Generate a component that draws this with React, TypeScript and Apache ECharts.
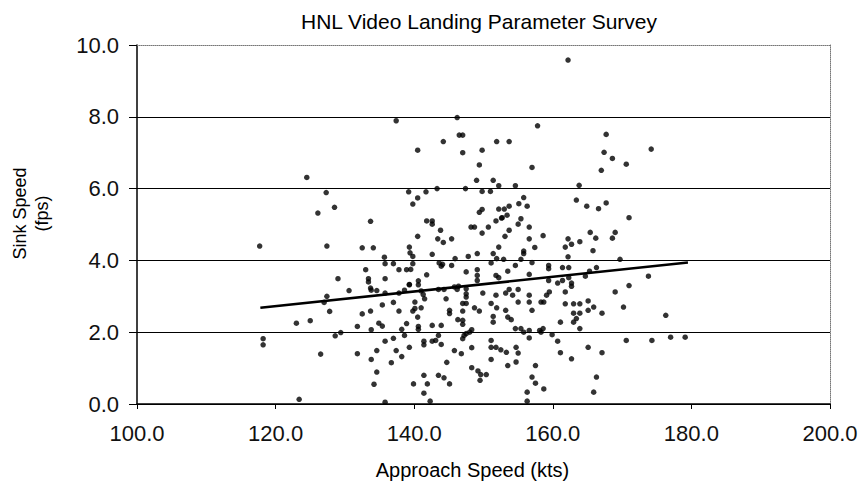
import React, { useEffect, useRef } from "react";
import * as echarts from "echarts";

const chartTitle = "HNL Video Landing Parameter Survey";
const xAxisName = "Approach Speed (kts)";
const yAxisName = "Sink Speed\n(fps)";

const xMin = 100;
const xMax = 200;
const xStep = 20;
const yMin = 0;
const yMax = 10;
const yStep = 2;

// [approach speed (kts), sink speed (fps)]
const landingsBelow140: [number, number][] = [
  [137.4, 7.89], [124.5, 6.31], [127.3, 5.89], [139.2, 5.91], [128.5, 5.48], [126.1, 5.32],
  [133.7, 5.09], [117.7, 4.4], [127.4, 4.4], [132.5, 4.35], [134.1, 4.35], [135.7, 4.09],
  [135.8, 3.91], [137.0, 3.91], [133.0, 3.74], [137.8, 3.74], [138.9, 3.74], [129.0, 3.49],
  [133.4, 3.49], [133.4, 3.4], [135.8, 3.49], [139.3, 3.33], [130.6, 3.16], [133.7, 3.23],
  [133.8, 3.17], [134.6, 3.16], [135.8, 3.09], [138.6, 3.17], [127.4, 3.0], [127.0, 2.83],
  [127.8, 2.58], [135.4, 2.76], [137.0, 2.83], [133.7, 2.59], [132.5, 2.51], [137.8, 2.59],
  [123.0, 2.25], [125.0, 2.32], [134.9, 2.25], [135.4, 2.17], [131.8, 2.16], [133.8, 2.07],
  [138.9, 2.24], [138.2, 2.08], [118.2, 1.82], [118.2, 1.65], [129.4, 1.99], [128.6, 1.9],
  [135.8, 1.75], [137.0, 1.83], [138.6, 1.91], [139.3, 1.58], [126.5, 1.39], [131.8, 1.4],
  [134.6, 1.49], [137.4, 1.49], [133.8, 1.24], [138.2, 1.32], [136.7, 1.15], [134.6, 0.89],
  [134.2, 0.55], [123.4, 0.13], [135.8, 0.05],
];

const landingsUpperMid: [number, number][] = [
  [146.2, 7.98], [146.5, 7.49], [147.0, 7.49], [144.2, 7.31], [151.9, 7.31], [153.7, 7.31],
  [140.5, 7.07], [147.0, 7.0], [149.8, 7.07], [149.4, 6.66], [149.0, 6.23], [151.4, 6.23],
  [152.2, 6.08], [143.3, 6.0], [147.4, 6.0], [141.7, 5.91], [149.8, 5.92], [151.0, 5.92],
  [140.5, 5.74], [139.8, 5.57], [149.8, 5.42], [149.4, 5.34], [152.2, 5.43], [153.0, 5.43],
  [153.7, 5.51], [153.4, 5.26], [141.8, 5.1], [142.6, 5.1], [142.6, 5.01], [152.6, 5.18],
  [151.8, 5.1], [148.2, 4.93], [148.7, 4.93], [150.7, 4.93], [143.8, 4.84], [149.8, 4.76],
  [153.7, 4.84], [140.5, 4.67], [143.4, 4.6], [144.2, 4.5], [145.4, 4.6], [153.1, 4.67],
  [139.3, 4.37], [139.4, 4.21], [139.8, 4.11], [142.6, 4.17], [152.2, 4.37], [149.1, 4.19],
  [151.4, 4.19], [147.8, 4.11], [145.9, 4.05], [151.9, 4.05],
];

const landingsLowerMid: [number, number][] = [
  [139.8, 3.91], [139.5, 3.75], [143.6, 3.93], [144.1, 3.89], [143.9, 3.84], [145.4, 3.86],
  [151.1, 3.93], [147.5, 3.68], [149.1, 3.74], [149.1, 3.58], [149.1, 3.44], [151.8, 3.58],
  [152.2, 3.52], [141.8, 3.6], [139.3, 3.32], [140.6, 3.43], [140.6, 3.32], [137.8, 3.09],
  [141.0, 3.15], [141.3, 3.05], [141.5, 2.93], [143.5, 3.19], [144.3, 3.19], [145.8, 3.26],
  [146.2, 3.19], [146.4, 3.28], [147.5, 3.21], [147.5, 3.07], [147.5, 2.98], [149.9, 3.09],
  [151.8, 3.03], [153.2, 3.09], [144.6, 2.93], [140.1, 2.84], [139.8, 2.59], [140.1, 2.66],
  [141.0, 2.68], [145.1, 2.61], [145.1, 2.52], [147.0, 2.8], [147.5, 2.8], [147.0, 2.59],
  [148.7, 2.68], [149.4, 2.59], [151.1, 2.8], [151.9, 2.68], [153.2, 2.61], [153.5, 2.42],
  [140.5, 2.42], [146.3, 2.35], [147.0, 2.33], [147.0, 2.22], [151.4, 2.44], [151.4, 2.28],
  [140.6, 2.16], [140.6, 2.08], [142.6, 2.19], [143.9, 2.19], [148.3, 2.07], [148.0, 2.0],
  [147.5, 1.96], [147.0, 1.82], [147.2, 1.91], [143.5, 1.91], [141.4, 1.75], [141.4, 1.65],
  [142.6, 1.75], [143.1, 1.77], [143.9, 1.66], [151.1, 1.77], [151.1, 1.58], [151.8, 1.58],
  [152.5, 1.51], [153.3, 1.44], [145.8, 1.49], [146.8, 1.4], [148.3, 1.57], [151.1, 1.24],
  [144.7, 1.16], [153.5, 1.07], [148.3, 1.01], [149.2, 0.92], [149.6, 0.82], [150.4, 0.82],
  [149.5, 0.66], [141.4, 0.8], [143.5, 0.8], [144.3, 0.73], [139.9, 0.56], [141.9, 0.56],
  [145.1, 0.56], [141.4, 0.3], [142.3, 0.08],
];

const landingsFastHigh: [number, number][] = [
  [157.8, 7.75], [167.7, 7.51], [167.4, 7.01], [167.0, 6.51], [157.0, 6.59], [154.6, 6.08],
  [163.8, 6.09], [155.8, 5.75], [155.1, 5.58], [156.3, 5.51], [152.7, 5.19], [155.4, 5.16],
  [155.0, 5.01], [156.6, 4.93], [156.6, 4.6], [158.6, 4.69], [157.4, 4.36], [155.8, 4.26],
  [155.8, 4.19], [163.4, 5.68], [164.9, 5.51], [166.6, 5.44], [167.7, 5.6], [165.4, 4.78],
  [166.2, 4.62], [162.2, 4.6], [162.7, 4.45], [161.8, 4.37], [163.9, 4.52], [165.8, 4.27],
  [162.2, 4.1], [155.4, 4.03], [152.9, 4.03],
];

const landingsFastLow: [number, number][] = [
  [154.6, 3.86], [157.0, 3.94], [159.4, 3.86], [159.4, 3.77], [161.4, 3.8], [162.3, 3.8],
  [166.3, 3.8], [165.3, 3.7], [153.5, 3.7], [156.6, 3.61], [159.4, 3.44], [160.7, 3.37],
  [161.4, 3.44], [162.3, 3.52], [162.7, 3.37], [162.7, 3.28], [164.7, 3.56], [153.7, 3.19],
  [155.0, 3.19], [154.2, 3.03], [156.6, 3.03], [156.6, 2.84], [155.0, 2.84], [158.3, 2.84],
  [158.7, 2.84], [159.1, 3.03], [159.5, 3.12], [161.8, 3.12], [161.8, 2.79], [163.0, 2.79],
  [163.9, 2.79], [165.1, 2.87], [165.1, 2.61], [165.9, 2.7], [163.0, 2.53], [163.9, 2.53],
  [167.1, 2.53], [154.0, 2.35], [157.0, 2.61], [161.1, 2.28], [163.0, 2.28], [163.4, 2.38],
  [163.9, 2.1], [154.6, 2.1], [155.4, 2.1], [155.8, 2.0], [156.6, 2.05], [156.6, 1.84],
  [158.1, 2.05], [158.6, 2.1], [158.3, 2.0], [159.9, 1.93], [160.7, 1.75], [161.1, 1.43],
  [162.7, 1.26], [165.1, 1.58], [167.1, 1.43], [154.7, 1.58], [155.0, 1.42], [154.7, 1.17],
  [157.5, 1.07], [157.0, 0.75], [157.5, 0.58], [158.7, 0.42], [166.3, 0.75], [165.9, 0.33],
  [156.3, 0.33], [156.3, 0.08],
];

const landingsFastest: [number, number][] = [
  [162.2, 9.58], [168.6, 6.84], [170.6, 6.68], [174.2, 7.1], [171.0, 5.19], [169.0, 4.78],
  [168.6, 4.62], [169.7, 4.03], [173.8, 3.56], [171.0, 3.3], [169.0, 3.12], [170.2, 2.7],
  [176.3, 2.47], [170.6, 1.77], [174.3, 1.77], [177.0, 1.86], [179.1, 1.86],
];

// linear trend line end points
const trendLine: [number, number][] = [
  [117.8, 2.68],
  [179.5, 3.94],
];

const allLandings = [
  ...landingsBelow140,
  ...landingsUpperMid,
  ...landingsLowerMid,
  ...landingsFastHigh,
  ...landingsFastLow,
  ...landingsFastest,
];

export default function App() {
  const ref = useRef<HTMLDivElement>(null);

  useEffect(() => {
    if (!ref.current) return;
    const chart = echarts.init(ref.current, null, { renderer: "svg" });
    const tickFont = "Liberation Sans";
    const textFont = "Liberation Sans";
    chart.setOption({
      animation: false,
      backgroundColor: "#ffffff",
      title: {
        text: chartTitle,
        left: 296,
        top: 6,
        textStyle: { fontFamily: textFont, fontSize: 21, fontWeight: "normal", color: "#000" },
      },
      grid: { left: 137, right: 32, top: 45, bottom: 91 },
      xAxis: [
        {
          type: "value",
          min: xMin,
          max: xMax,
          interval: xStep,
          position: "bottom",
          name: xAxisName,
          nameLocation: "middle",
          nameGap: 56,
          nameTextStyle: { fontFamily: textFont, fontSize: 20, color: "#000", padding: [0, 22, 0, 0] },
          axisLine: { show: true, onZero: false, lineStyle: { color: "#000", width: 1.5 } },
          axisTick: { show: true, inside: false, length: 5, lineStyle: { color: "#000" } },
          axisLabel: {
            formatter: (v: number) => v.toFixed(1),
            fontFamily: tickFont,
            fontSize: 22,
            color: "#111",
            margin: 18,
          },
          splitLine: { show: false },
        },
        {
          type: "value",
          min: xMin,
          max: xMax,
          position: "top",
          axisLine: { show: true, onZero: false, lineStyle: { color: "#777", width: 1, type: "dotted" } },
          axisTick: { show: false },
          axisLabel: { show: false },
          splitLine: { show: false },
        },
      ],
      yAxis: [
        {
          type: "value",
          min: yMin,
          max: yMax,
          interval: yStep,
          position: "left",
          name: yAxisName,
          nameLocation: "middle",
          nameRotate: 90,
          nameGap: 84,
          nameTextStyle: {
            fontFamily: textFont,
            fontSize: 18,
            color: "#000",
            lineHeight: 22,
            padding: [0, 0, 0, 22],
          },
          axisLine: { show: true, onZero: false, lineStyle: { color: "#000", width: 1.5 } },
          axisTick: { show: true, inside: false, length: 8, lineStyle: { color: "#000" } },
          axisLabel: {
            formatter: (v: number) => v.toFixed(1),
            fontFamily: tickFont,
            fontSize: 22,
            color: "#111",
            margin: 18,
          },
          splitLine: {
            show: true,
            lineStyle: {
              color: ["#000", "#000", "#000", "#000", "#000", "transparent"],
              width: 1,
            },
          },
        },
        {
          type: "value",
          min: yMin,
          max: yMax,
          position: "right",
          axisLine: { show: true, onZero: false, lineStyle: { color: "#777", width: 1, type: "dotted" } },
          axisTick: { show: false },
          axisLabel: { show: false },
          splitLine: { show: false },
        },
      ],
      series: [
        {
          type: "scatter",
          xAxisIndex: 0,
          yAxisIndex: 0,
          data: allLandings,
          symbol: "circle",
          symbolSize: 5.5,
          itemStyle: { color: "#000" },
          z: 3,
        },
        {
          type: "line",
          xAxisIndex: 0,
          yAxisIndex: 0,
          data: trendLine,
          showSymbol: false,
          symbol: "none",
          lineStyle: { color: "#000", width: 2.5 },
          z: 4,
        },
      ],
    });
    return () => chart.dispose();
  }, []);

  return (
    <div
      ref={ref}
      style={{ position: "absolute", left: 0, top: 0, width: 862, height: 495, background: "#fff" }}
    />
  );
}
